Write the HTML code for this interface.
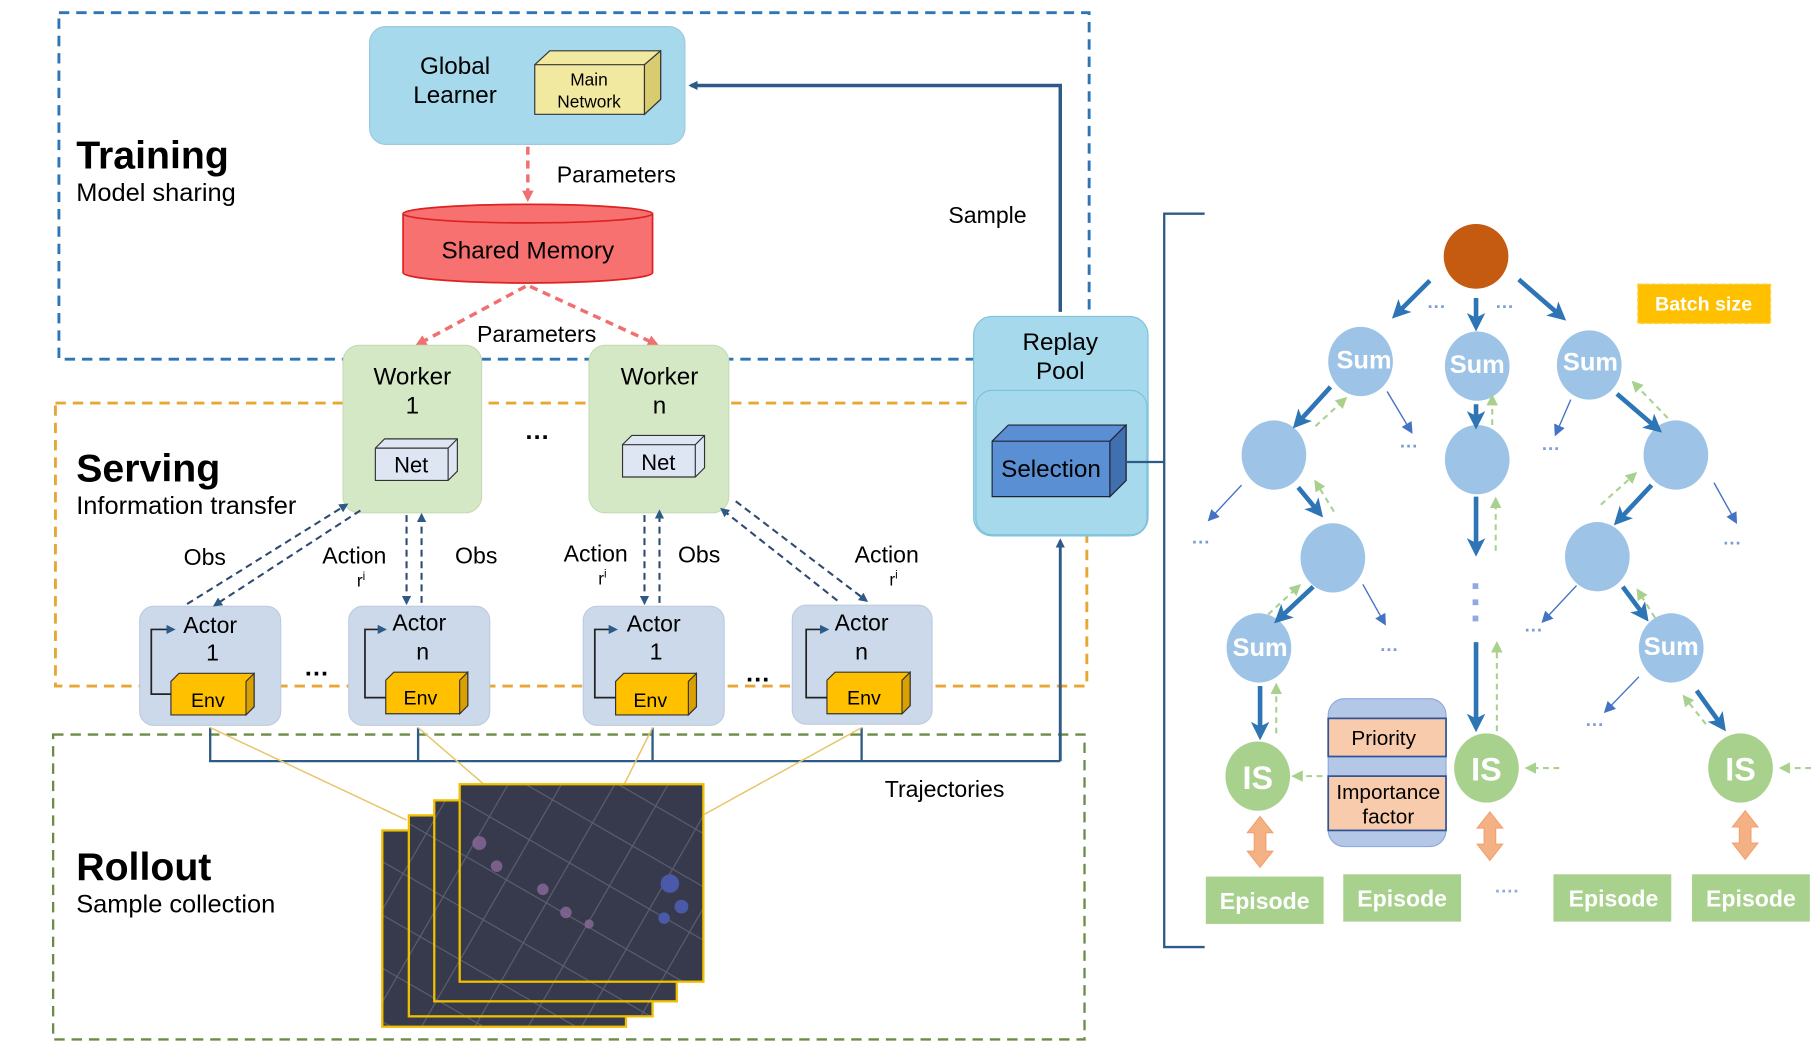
<!DOCTYPE html>
<html><head><meta charset="utf-8"><style>html,body{margin:0;padding:0;background:#fff}svg{display:block}text{font-family:"Liberation Sans","DejaVu Sans",sans-serif}</style></head><body>
<svg width="1811" height="1051" viewBox="0 0 1568 910" preserveAspectRatio="none" xmlns="http://www.w3.org/2000/svg">
<defs>
<marker id="ab" markerWidth="8" markerHeight="8" refX="6" refY="4" orient="auto" markerUnits="userSpaceOnUse"><path d="M0,0 L8,4 L0,8 z" fill="#2e5a88"/></marker>
<marker id="ar" markerWidth="10" markerHeight="10" refX="7" refY="5" orient="auto" markerUnits="userSpaceOnUse"><path d="M0,0 L10,5 L0,10 z" fill="#f07070"/></marker>
<marker id="bt" markerWidth="16" markerHeight="16" refX="12" refY="8" orient="auto" markerUnits="userSpaceOnUse"><path d="M0,0 L16,8 L0,16 L4,8 z" fill="#2e75b6"/></marker>
<marker id="bn" markerWidth="10" markerHeight="10" refX="8" refY="5" orient="auto" markerUnits="userSpaceOnUse"><path d="M0,0 L10,5 L0,10 z" fill="#4472c4"/></marker>
<marker id="gn" markerWidth="10" markerHeight="10" refX="8" refY="5" orient="auto" markerUnits="userSpaceOnUse"><path d="M0,0 L10,5 L0,10 z" fill="#a9d18e"/></marker>
<pattern id="tile" width="40" height="40" patternUnits="userSpaceOnUse" patternTransform="rotate(30)"><rect width="40" height="40" fill="#363a4c"/><path d="M0,0 L40,0 M0,0 L0,40" stroke="#5b6070" stroke-width="2"/></pattern>
</defs>
<!-- region boxes -->
<rect x="51" y="11" width="892" height="300" fill="none" stroke="#2e75b6" stroke-width="2.5" stroke-dasharray="9,6"/>
<rect x="48" y="349" width="893" height="245" fill="none" stroke="#e8a735" stroke-width="2.5" stroke-dasharray="9,6"/>
<rect x="46" y="636" width="893" height="264" fill="none" stroke="#6a8c46" stroke-width="2" stroke-dasharray="9,6"/>
<text x="66" y="146" font-size="34" font-weight="bold">Training</text>
<text x="66" y="174" font-size="22">Model sharing</text>
<text x="66" y="417" font-size="34" font-weight="bold">Serving</text>
<text x="66" y="445" font-size="22">Information transfer</text>
<text x="66" y="762" font-size="34" font-weight="bold">Rollout</text>
<text x="66" y="790" font-size="22">Sample collection</text>
<!-- global learner -->
<rect x="320" y="23" width="273" height="102" rx="14" fill="#a6d9ec" stroke="#9cc8e0"/>
<text x="394" y="64" font-size="21" text-anchor="middle">Global</text>
<text x="394" y="89" font-size="21" text-anchor="middle">Learner</text>
<path d="M463,56 L476,44 L572,44 L572,86 L558,99 L463,99 z" fill="#f2e9a0" stroke="#333"/>
<path d="M463,56 L558,56 L572,44 M558,56 L558,99" fill="none" stroke="#333"/>
<path d="M558,56 L572,44 L572,86 L558,99z" fill="#d8cb70" stroke="#333"/>
<text x="510" y="74" font-size="15" text-anchor="middle">Main</text>
<text x="510" y="93" font-size="15" text-anchor="middle">Network</text>
<line x1="457" y1="127" x2="457" y2="172" stroke="#f07070" stroke-width="3" stroke-dasharray="7,5" marker-end="url(#ar)"/>
<text x="482" y="158" font-size="20">Parameters</text>
<!-- shared memory -->
<path d="M349,185 L349,236 A108,9 0 0 0 565,236 L565,185" fill="#f87171" stroke="#d22" stroke-width="1.5"/>
<ellipse cx="457" cy="185" rx="108" ry="8" fill="#f87171" stroke="#d22" stroke-width="1.5"/>
<text x="457" y="224" font-size="21" text-anchor="middle">Shared Memory</text>
<line x1="455" y1="248" x2="362" y2="298" stroke="#f07070" stroke-width="3" stroke-dasharray="7,5" marker-end="url(#ar)"/>
<line x1="459" y1="248" x2="568" y2="298" stroke="#f07070" stroke-width="3" stroke-dasharray="7,5" marker-end="url(#ar)"/>
<text x="413" y="296" font-size="20">Parameters</text>
<!-- workers -->
<g>
<rect x="297" y="299" width="120" height="145" rx="14" fill="#d5e8c5" stroke="#c5dbb5"/>
<text x="357" y="333" font-size="21" text-anchor="middle">Worker</text><text x="357" y="358" font-size="21" text-anchor="middle">1</text>
<path d="M325,388 L333,380 L396,380 L396,408 L388,416 L325,416z" fill="#dde6f2" stroke="#333"/><path d="M325,388 L388,388 L396,380 M388,388 L388,416" fill="none" stroke="#333"/>
<text x="356" y="409" font-size="19" text-anchor="middle">Net</text>
<rect x="510" y="299" width="121" height="145" rx="14" fill="#d5e8c5" stroke="#c5dbb5"/>
<text x="571" y="333" font-size="21" text-anchor="middle">Worker</text><text x="571" y="358" font-size="21" text-anchor="middle">n</text>
<path d="M539,385 L547,377 L610,377 L610,405 L602,413 L539,413z" fill="#dde6f2" stroke="#333"/><path d="M539,385 L602,385 L610,377 M602,385 L602,413" fill="none" stroke="#333"/>
<text x="570" y="407" font-size="19" text-anchor="middle">Net</text>
</g>
<text x="465" y="380" font-size="22" text-anchor="middle" font-weight="bold">…</text>
<!-- replay pool -->
<rect x="843" y="274" width="151" height="190" rx="16" fill="#a6d9ec" stroke="#7cc2dc"/>
<rect x="845" y="338" width="148" height="125" rx="14" fill="#a6d9ec" stroke="#7cc2dc"/>
<text x="918" y="303" font-size="21" text-anchor="middle">Replay</text><text x="918" y="328" font-size="21" text-anchor="middle">Pool</text>
<path d="M859,382 L873,368 L975,368 L975,416 L961,430 L859,430z" fill="#5b8fd4" stroke="#223"/><path d="M859,382 L961,382 L975,368 M961,382 L961,430" fill="none" stroke="#223"/>
<path d="M961,382 L975,368 L975,416 L961,430z" fill="#4070b0" stroke="#223"/>
<text x="910" y="413" font-size="21" text-anchor="middle">Selection</text>
<text x="855" y="193" font-size="20" text-anchor="middle">Sample</text>
<path d="M918,270 L918,74 L598,74" fill="none" stroke="#2e5a88" stroke-width="3" marker-end="url(#ab)"/>
<!-- actors -->
<g font-size="20">
<rect x="121" y="525" width="122" height="103" rx="12" fill="#ccd9ea" stroke="#bccbe0"/>
<text x="182" y="548" text-anchor="middle">Actor</text><text x="184" y="572" text-anchor="middle">1</text>
<path d="M148,590 L155,583 L220,583 L220,612 L213,619 L148,619z" fill="#ffc000" stroke="#333"/><path d="M213,590 L220,583 L220,612 L213,619z" fill="#d9a000" stroke="#333"/>
<text x="180" y="612" font-size="17" text-anchor="middle">Env</text>
<path d="M148,601 L131,601 L131,545 L150,545" fill="none" stroke="#222" stroke-width="1.5" marker-end="url(#ab)"/>
<rect x="302" y="525" width="122" height="103" rx="12" fill="#ccd9ea" stroke="#bccbe0"/>
<text x="363" y="546" text-anchor="middle">Actor</text><text x="366" y="571" text-anchor="middle">n</text>
<path d="M334,589 L341,582 L405,582 L405,611 L398,618 L334,618z" fill="#ffc000" stroke="#333"/><path d="M398,589 L405,582 L405,611 L398,618z" fill="#d9a000" stroke="#333"/>
<text x="364" y="610" font-size="17" text-anchor="middle">Env</text>
<path d="M334,604 L316,604 L316,545 L333,545" fill="none" stroke="#222" stroke-width="1.5" marker-end="url(#ab)"/>
<rect x="505" y="525" width="122" height="103" rx="12" fill="#ccd9ea" stroke="#bccbe0"/>
<text x="566" y="547" text-anchor="middle">Actor</text><text x="568" y="571" text-anchor="middle">1</text>
<path d="M533,590 L540,583 L603,583 L603,612 L596,619 L533,619z" fill="#ffc000" stroke="#333"/><path d="M596,590 L603,583 L603,612 L596,619z" fill="#d9a000" stroke="#333"/>
<text x="563" y="612" font-size="17" text-anchor="middle">Env</text>
<path d="M533,604 L515,604 L515,545 L533,545" fill="none" stroke="#222" stroke-width="1.5" marker-end="url(#ab)"/>
<rect x="686" y="524" width="121" height="103" rx="12" fill="#ccd9ea" stroke="#bccbe0"/>
<text x="746" y="546" text-anchor="middle">Actor</text><text x="746" y="571" text-anchor="middle">n</text>
<path d="M716,589 L723,582 L788,582 L788,611 L781,618 L716,618z" fill="#ffc000" stroke="#333"/><path d="M781,589 L788,582 L788,611 L781,618z" fill="#d9a000" stroke="#333"/>
<text x="748" y="610" font-size="17" text-anchor="middle">Env</text>
<path d="M716,604 L698,604 L698,545 L716,545" fill="none" stroke="#222" stroke-width="1.5" marker-end="url(#ab)"/>
</g>
<text x="274" y="585" font-size="22" text-anchor="middle" font-weight="bold">…</text>
<text x="656" y="590" font-size="22" text-anchor="middle" font-weight="bold">…</text>
<!-- obs/action arrows -->
<g stroke="#2e4a70" stroke-width="1.8" stroke-dasharray="6,4" fill="none">
<line x1="162" y1="523" x2="300" y2="437" marker-end="url(#ab)"/>
<line x1="312" y1="442" x2="186" y2="524" marker-end="url(#ab)"/>
<line x1="352" y1="446" x2="352" y2="522" marker-end="url(#ab)"/>
<line x1="365" y1="522" x2="365" y2="446" marker-end="url(#ab)"/>
<line x1="558" y1="446" x2="558" y2="522" marker-end="url(#ab)"/>
<line x1="571" y1="522" x2="571" y2="443" marker-end="url(#ab)"/>
<line x1="725" y1="520" x2="625" y2="441" marker-end="url(#ab)"/>
<line x1="637" y1="434" x2="750" y2="520" marker-end="url(#ab)"/>
</g>
<g font-size="20">
<text x="159" y="489">Obs</text><text x="279" y="488">Action</text><text x="309" y="508" font-size="15">r<tspan font-size="10" dy="-6">i</tspan></text>
<text x="394" y="488">Obs</text><text x="488" y="486">Action</text><text x="518" y="506" font-size="15">r<tspan font-size="10" dy="-6">i</tspan></text>
<text x="587" y="487">Obs</text><text x="740" y="487">Action</text><text x="770" y="507" font-size="15">r<tspan font-size="10" dy="-6">i</tspan></text>
</g>
<!-- trajectories -->
<path d="M182,630 L182,659 L918,659 M362,630 L362,659 M565,630 L565,659 M746,630 L746,659" fill="none" stroke="#2e5a88" stroke-width="2"/>
<path d="M918,659 L918,468" fill="none" stroke="#2e5a88" stroke-width="2.5" marker-end="url(#ab)"/>
<text x="766" y="690" font-size="20">Trajectories</text>
<g stroke="#e8c56a" stroke-width="1.3">
<line x1="182" y1="630" x2="352" y2="710"/><line x1="362" y1="630" x2="420" y2="680"/><line x1="565" y1="630" x2="540" y2="680"/><line x1="746" y1="630" x2="610" y2="705"/>
</g>
<!-- rollout images -->
<g stroke="#f0c000" stroke-width="2">
<rect x="331" y="719" width="211" height="170" fill="url(#tile)"/>
<rect x="354" y="706" width="211" height="174" fill="url(#tile)"/>
<rect x="376" y="693" width="210" height="174" fill="url(#tile)"/>
<rect x="398" y="679" width="211" height="171" fill="url(#tile)"/>
</g>
<g fill="#8a6a9a" opacity="0.8"><circle cx="415" cy="730" r="6"/><circle cx="430" cy="750" r="5"/><circle cx="470" cy="770" r="5"/><circle cx="490" cy="790" r="5"/><circle cx="510" cy="800" r="4"/></g>
<g fill="#4a5aa8"><circle cx="580" cy="765" r="8"/><circle cx="590" cy="785" r="6"/><circle cx="575" cy="795" r="5"/></g>
<!-- bracket -->
<path d="M1043,185 L1008,185 L1008,820 L1043,820" fill="none" stroke="#2e5a88" stroke-width="2"/>
<line x1="975" y1="400" x2="1008" y2="400" stroke="#2e5a88" stroke-width="2"/>
<!-- tree -->
<circle cx="1278" cy="222" r="28" fill="#c55a11"/>
<rect x="1418" y="246" width="115" height="34" fill="#ffc000" stroke="#ffd040" stroke-dasharray="4,2"/>
<text x="1475" y="269" font-size="17" fill="#fff" font-weight="bold" text-anchor="middle">Batch size</text>
<g fill="#9dc3e6">
<ellipse cx="1178" cy="313" rx="28" ry="30"/><ellipse cx="1279" cy="317" rx="28" ry="30"/><ellipse cx="1376" cy="316" rx="28" ry="30"/>
<ellipse cx="1103" cy="394" rx="28" ry="30"/><ellipse cx="1279" cy="398" rx="28" ry="30"/><ellipse cx="1451" cy="394" rx="28" ry="30"/>
<ellipse cx="1154" cy="483" rx="28" ry="30"/><ellipse cx="1383" cy="482" rx="28" ry="30"/>
<ellipse cx="1090" cy="561" rx="28" ry="30"/><ellipse cx="1447" cy="561" rx="28" ry="30"/>
</g>
<g font-size="22" fill="#fff" font-weight="bold" text-anchor="middle">
<text x="1181" y="319">Sum</text><text x="1279" y="323">Sum</text><text x="1377" y="321">Sum</text><text x="1091" y="568">Sum</text><text x="1447" y="567">Sum</text>
</g>
<g fill="#a9d18e"><ellipse cx="1089" cy="672" rx="28" ry="30"/><ellipse cx="1287" cy="665" rx="28" ry="30"/><ellipse cx="1507" cy="665" rx="28" ry="30"/></g>
<g font-size="28" fill="#fff" font-weight="bold" text-anchor="middle"><text x="1089" y="683">IS</text><text x="1287" y="676">IS</text><text x="1507" y="676">IS</text></g>
<!-- thick arrows -->
<g stroke="#2e75b6" stroke-width="4" fill="none">
<line x1="1238" y1="243" x2="1208" y2="273" marker-end="url(#bt)"/>
<line x1="1278" y1="258" x2="1278" y2="283" marker-end="url(#bt)"/>
<line x1="1315" y1="242" x2="1353" y2="275" marker-end="url(#bt)"/>
<line x1="1152" y1="335" x2="1122" y2="368" marker-end="url(#bt)"/>
<line x1="1278" y1="350" x2="1278" y2="368" marker-end="url(#bt)"/>
<line x1="1400" y1="341" x2="1436" y2="372" marker-end="url(#bt)"/>
<line x1="1124" y1="422" x2="1143" y2="445" marker-end="url(#bt)"/>
<line x1="1278" y1="430" x2="1278" y2="478" marker-end="url(#bt)"/>
<line x1="1430" y1="420" x2="1400" y2="452" marker-end="url(#bt)"/>
<line x1="1137" y1="508" x2="1106" y2="537" marker-end="url(#bt)"/>
<line x1="1405" y1="508" x2="1425" y2="535" marker-end="url(#bt)"/>
<line x1="1091" y1="594" x2="1091" y2="637" marker-end="url(#bt)"/>
<line x1="1278" y1="556" x2="1278" y2="630" marker-end="url(#bt)"/>
<line x1="1469" y1="598" x2="1492" y2="630" marker-end="url(#bt)"/>
</g>
<g stroke="#4472c4" stroke-width="1.2" fill="none">
<line x1="1201" y1="339" x2="1222" y2="374" marker-end="url(#bn)"/>
<line x1="1360" y1="346" x2="1347" y2="376" marker-end="url(#bn)"/>
<line x1="1075" y1="420" x2="1047" y2="450" marker-end="url(#bn)"/>
<line x1="1484" y1="418" x2="1503" y2="452" marker-end="url(#bn)"/>
<line x1="1180" y1="506" x2="1199" y2="540" marker-end="url(#bn)"/>
<line x1="1365" y1="507" x2="1336" y2="538" marker-end="url(#bn)"/>
<line x1="1419" y1="586" x2="1390" y2="616" marker-end="url(#bn)"/>
</g>
<g stroke="#a9d18e" stroke-width="1.8" stroke-dasharray="5,4" fill="none">
<line x1="1139" y1="369" x2="1165" y2="345" marker-end="url(#gn)"/>
<line x1="1292" y1="368" x2="1292" y2="343" marker-end="url(#gn)"/>
<line x1="1444" y1="362" x2="1414" y2="331" marker-end="url(#gn)"/>
<line x1="1155" y1="443" x2="1139" y2="417" marker-end="url(#gn)"/>
<line x1="1295" y1="477" x2="1295" y2="432" marker-end="url(#gn)"/>
<line x1="1386" y1="437" x2="1416" y2="410" marker-end="url(#gn)"/>
<line x1="1098" y1="532" x2="1125" y2="507" marker-end="url(#gn)"/>
<line x1="1433" y1="535" x2="1418" y2="511" marker-end="url(#gn)"/>
<line x1="1105" y1="635" x2="1105" y2="593" marker-end="url(#gn)"/>
<line x1="1296" y1="633" x2="1296" y2="557" marker-end="url(#gn)"/>
<line x1="1477" y1="627" x2="1458" y2="603" marker-end="url(#gn)"/>
<line x1="1145" y1="672" x2="1120" y2="672" marker-end="url(#gn)"/>
<line x1="1350" y1="665" x2="1322" y2="665" marker-end="url(#gn)"/>
<line x1="1568" y1="665" x2="1542" y2="665" marker-end="url(#gn)"/>
</g>
<g fill="#4472c4" font-size="16" font-weight="bold" opacity="0.7">
<text x="1236" y="271">···</text><text x="1295" y="271">···</text><text x="1212" y="392">···</text><text x="1335" y="394">···</text>
<text x="1032" y="475">···</text><text x="1492" y="476">···</text><text x="1320" y="551">···</text><text x="1195" y="568">···</text><text x="1373" y="633">···</text>
</g>
<g fill="#8faadc"><rect x="1275" y="505" width="5" height="5"/><rect x="1275" y="519" width="5" height="5"/><rect x="1275" y="533" width="5" height="5"/></g>
<!-- priority box -->
<rect x="1150" y="605" width="102" height="128" rx="14" fill="#b4c7e7" stroke="#8faadc"/>
<rect x="1150" y="622" width="102" height="33" fill="#f8cbad" stroke="#2f5597" stroke-width="1.5"/>
<rect x="1150" y="672" width="102" height="47" fill="#f8cbad" stroke="#2f5597" stroke-width="1.5"/>
<text x="1198" y="645" font-size="18" text-anchor="middle">Priority</text>
<text x="1202" y="692" font-size="18" text-anchor="middle">Importance</text>
<text x="1202" y="713" font-size="18" text-anchor="middle">factor</text>
<!-- double arrows -->
<g fill="#f4b183" stroke="#f4a070" stroke-width="1">
<path d="M1091,707 L1102,721 L1096,721 L1096,737 L1102,737 L1091,751 L1080,737 L1086,737 L1086,721 L1080,721z"/>
<path d="M1290,703 L1301,717 L1295,717 L1295,731 L1301,731 L1290,745 L1279,731 L1285,731 L1285,717 L1279,717z"/>
<path d="M1511,702 L1522,716 L1516,716 L1516,730 L1522,730 L1511,744 L1500,730 L1506,730 L1506,716 L1500,716z"/>
</g>
<g fill="#a9d18e"><rect x="1044" y="759" width="102" height="41"/><rect x="1163" y="757" width="102" height="41"/><rect x="1345" y="757" width="102" height="41"/><rect x="1465" y="757" width="102" height="41"/></g>
<g fill="#fff" font-size="20" font-weight="bold" text-anchor="middle"><text x="1095" y="787">Episode</text><text x="1214" y="785">Episode</text><text x="1397" y="785">Episode</text><text x="1516" y="785">Episode</text></g>
<text x="1305" y="777" font-size="16" fill="#8faadc" text-anchor="middle" font-weight="bold">····</text>
</svg>
</body></html>
